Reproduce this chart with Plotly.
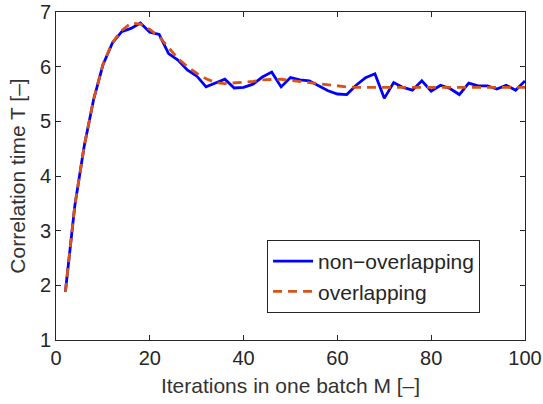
import plotly.graph_objects as go

M = list(range(2, 101, 2))
T_non = [1.88, 3.45, 4.54, 5.39, 6.03, 6.43, 6.64, 6.70, 6.80, 6.63,
         6.59, 6.24, 6.12, 5.94, 5.83, 5.63, 5.70, 5.77, 5.61, 5.62,
         5.68, 5.81, 5.90, 5.63, 5.80, 5.76, 5.74, 5.65, 5.56, 5.50,
         5.49, 5.66, 5.80, 5.87, 5.42, 5.71, 5.62, 5.57, 5.74, 5.55,
         5.66, 5.60, 5.49, 5.70, 5.65, 5.65, 5.59, 5.66, 5.57, 5.74]
T_ovl = [1.88, 3.45, 4.54, 5.40, 6.04, 6.44, 6.66, 6.80, 6.78, 6.68,
         6.55, 6.35, 6.15, 6.00, 5.88, 5.78, 5.71, 5.69, 5.70, 5.71,
         5.73, 5.76, 5.77, 5.77, 5.75, 5.73, 5.71, 5.68, 5.66, 5.64,
         5.63, 5.62, 5.62, 5.62, 5.62, 5.62, 5.62, 5.62, 5.62, 5.62,
         5.62, 5.62, 5.62, 5.62, 5.62, 5.62, 5.62, 5.62, 5.62, 5.62]

x_ticks = [0, 20, 40, 60, 80, 100]
y_ticks = [1, 2, 3, 4, 5, 6, 7]

TXT = "#262626"

fig = go.Figure()
fig.add_trace(go.Scatter(x=M, y=T_non, mode="lines", name="non\u2212overlapping",
                         line=dict(color="#0000FF", width=2.8)))
fig.add_trace(go.Scatter(x=M, y=T_ovl, mode="lines", name="overlapping",
                         line=dict(color="#D95319", width=2.8, dash="9px,6px")))

axis_common = dict(showgrid=False, zeroline=False, showline=True, linecolor=TXT,
                   linewidth=1, mirror="ticks", ticks="inside", ticklen=5,
                   tickcolor=TXT, tickfont=dict(size=20, color=TXT),
                   automargin=False, ticklabeloverflow="allow")

fig.update_layout(
    width=543, height=404,
    margin=dict(l=56, r=18, t=12, b=64),
    paper_bgcolor="white", plot_bgcolor="white",
    font=dict(family="Liberation Sans, Arial, sans-serif", size=20, color=TXT),
    xaxis=dict(range=[0, 100], tickvals=x_ticks,
               title=dict(text="Iterations in one batch M [\u2013]", standoff=10,
                          font=dict(size=21, color="#333333")),
               **axis_common),
    yaxis=dict(range=[1, 7], tickvals=y_ticks,
               title=dict(text="Correlation time T [\u2013]", standoff=8,
                          font=dict(size=21, color="#333333")),
               **axis_common),
    legend=dict(x=0.45, y=0.305, xanchor="left", yanchor="top",
                bordercolor=TXT, borderwidth=1, bgcolor="white",
                font=dict(size=21, color=TXT), tracegroupgap=0,
                itemwidth=40),
    showlegend=True,
)

fig.write_html("out.html",
               config={"displayModeBar": False},
               post_script="document.body.style.margin='0';"
                           "document.body.style.overflow='hidden';")
